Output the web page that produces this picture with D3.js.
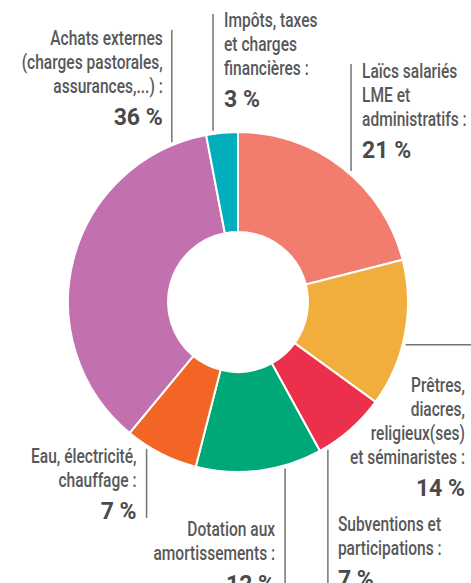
<!DOCTYPE html>
<html>
<head>
<meta charset="utf-8">
<script src="https://cdn.jsdelivr.net/npm/d3@7"></script>
<style>
  html, body { margin: 0; padding: 0; background: #fff; }
  svg { display: block; }
  text { font-family: Roboto, "Liberation Sans", sans-serif; }
</style>
</head>
<body>
<script>
// data
var categories = ["Laïcs salariés LME et administratifs", "Prêtres, diacres, religieux(ses) et séminaristes",
  "Subventions et participations", "Dotation aux amortissements", "Eau, électricité, chauffage",
  "Achats externes (charges pastorales, assurances,...)", "Impôts, taxes et charges financières"];
var values = [21, 14, 7, 12, 7, 36, 3];
var labelLines = [
  ["Laïcs salariés", "LME et", "administratifs :"],
  ["Prêtres,", "diacres,", "religieux(ses)", "et séminaristes :"],
  ["Subventions et", "participations :"],
  ["Dotation aux", "amortissements :"],
  ["Eau, électricité,", "chauffage :"],
  ["Achats externes", "(charges pastorales,", "assurances,...) :"],
  ["Impôts, taxes", "et charges", "financières :"]
];
var colors = ["#f27c6e", "#f2ae3c", "#ec2f4b", "#00a878", "#f26524", "#c270ae", "#00afbb"];

// label layout: angle (deg) where the leader leaves the ring, where it ends, text placement
var leaders = [
  { angle: 40.8,  dir: "v", end: 64,  side: "left",  dx: 11,  y0: 78 },
  { angle: 104.3, dir: "h", end: 471, side: "right", x: 465, y0: 392 },
  { angle: 148.7, dir: "v", end: 583, side: "left",  dx: 10,  y0: 531 },
  { angle: 164.2, dir: "v", end: 583, side: "right", dx: -10, y0: 536 },
  { angle: 211.9, dir: "v", end: 518, side: "right", dx: -10, y0: 463 },
  { angle: 337.5, dir: "v", end: 30,  side: "right", dx: -9,  y0: 45 },
  { angle: 351.7, dir: "v", end: 14,  side: "left",  dx: 11,  y0: 27 }
];

var width = 471, height = 583;
var cx = 238, cy = 302, outerR = 170, innerR = 70;
var lineH = 24, boldGap = 32;

var svg = d3.select("body").append("svg")
    .attr("width", width)
    .attr("height", height);

var pie = d3.pie().sort(null).value(function(d) { return d; });
var arc = d3.arc().innerRadius(innerR).outerRadius(outerR);
var arcs = pie(values);

var g = svg.append("g").attr("transform", "translate(" + cx + "," + cy + ")");

g.selectAll("path.slice")
    .data(arcs)
    .enter().append("path")
    .attr("class", "slice")
    .attr("d", arc)
    .style("fill", function(d, i) { return colors[i]; })
    .style("stroke", "#fff")
    .style("stroke-width", 2);

// condensed look: squeeze text horizontally around its anchor
function addText(x, y, anchor, s, size, weight, fill, sx) {
  svg.append("text")
    .attr("transform", "translate(" + x + "," + y + ") scale(" + sx + ",1)")
    .attr("text-anchor", anchor)
    .style("font-size", size + "px")
    .style("font-weight", weight)
    .style("fill", fill)
    .text(s);
}

// leader lines + labels
leaders.forEach(function(l, i) {
  var a = l.angle * Math.PI / 180;
  var r = outerR + 3;
  var x1 = cx + r * Math.sin(a), y1 = cy - r * Math.cos(a);
  var x2 = l.dir == "v" ? x1 : l.end;
  var y2 = l.dir == "v" ? l.end : y1;

  svg.append("line")
    .attr("x1", x1).attr("y1", y1)
    .attr("x2", x2).attr("y2", y2)
    .style("stroke", "#747474")
    .style("stroke-width", 1.5);

  var tx = l.x != null ? l.x : x1 + l.dx;
  var anchor = l.side == "left" ? "start" : "end";
  var lines = labelLines[i];

  lines.forEach(function(s, k) {
    addText(tx, l.y0 + k * lineH, anchor, s, 21, 500, "#58585a", 0.74);
  });
  addText(tx, l.y0 + (lines.length - 1) * lineH + boldGap, anchor,
          values[i] + " %", 23, "bold", "#4a4a4c", 1.0);
});
</script>
</body>
</html>
